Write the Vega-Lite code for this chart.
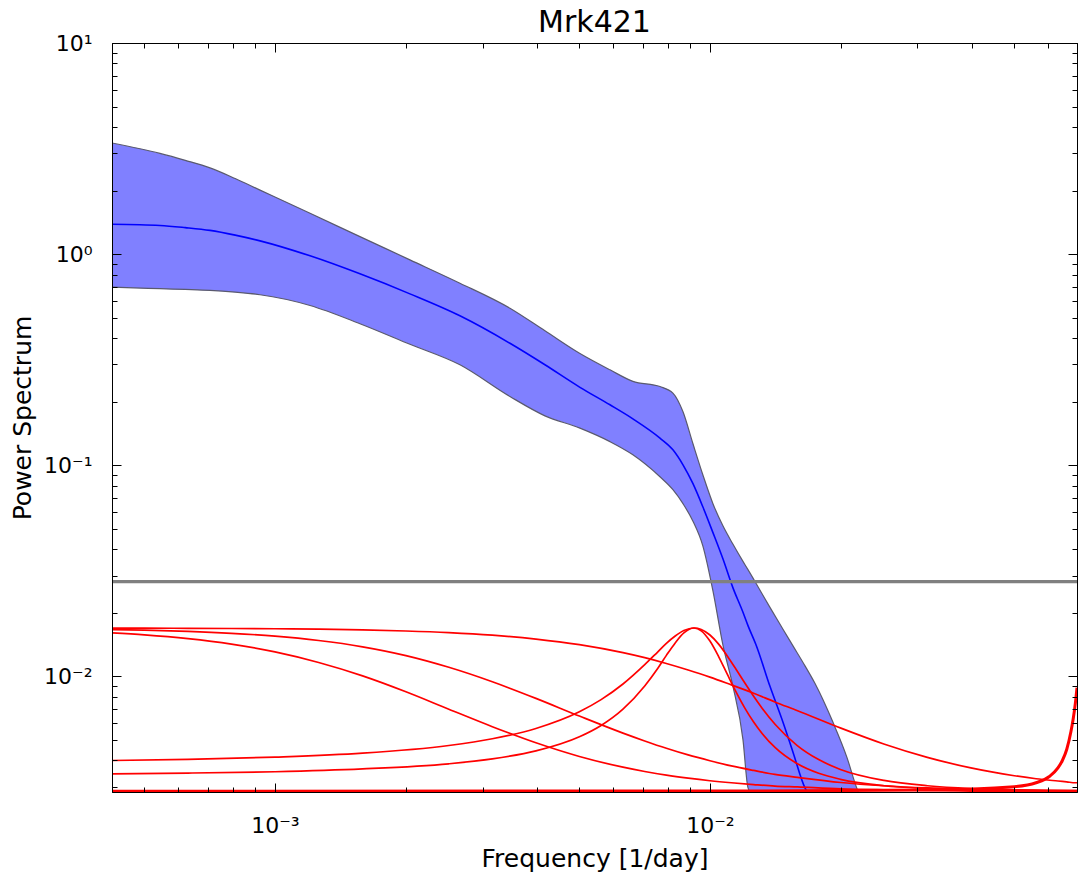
{
  "$schema": "https://vega.github.io/schema/vega-lite/v6.json",
  "width": 965,
  "height": 749,
  "autosize": {"type": "none"},
  "padding": {"left": 112, "top": 43, "right": 1, "bottom": 88},
  "background": "white",
  "title": {"text": "Mrk421", "font": "DejaVu Sans", "fontSize": 30, "fontWeight": "normal", "color": "black", "baseline": "alphabetic", "offset": -30, "anchor": "middle"},
  "config": {"view": {"stroke": "black", "strokeWidth": 1}, "font": "DejaVu Sans"},
  "datasets": {
    "band": [
      {"f": 0.000422, "lo": 0.697, "med": 1.385, "hi": 3.36},
      {"f": 0.000544, "lo": 0.686, "med": 1.367, "hi": 3.00},
      {"f": 0.000622, "lo": 0.680, "med": 1.335, "hi": 2.78},
      {"f": 0.000709, "lo": 0.673, "med": 1.295, "hi": 2.56},
      {"f": 0.000810, "lo": 0.660, "med": 1.230, "hi": 2.28},
      {"f": 0.000924, "lo": 0.642, "med": 1.155, "hi": 2.01},
      {"f": 0.001204, "lo": 0.571, "med": 0.981, "hi": 1.56},
      {"f": 0.001568, "lo": 0.468, "med": 0.806, "hi": 1.21},
      {"f": 0.002043, "lo": 0.374, "med": 0.648, "hi": 0.939},
      {"f": 0.002662, "lo": 0.299, "med": 0.510, "hi": 0.728},
      {"f": 0.003469, "lo": 0.2115, "med": 0.378, "hi": 0.554},
      {"f": 0.004175, "lo": 0.1713, "med": 0.299, "hi": 0.433},
      {"f": 0.005025, "lo": 0.1498, "med": 0.2338, "hi": 0.338},
      {"f": 0.00589, "lo": 0.1293, "med": 0.1932, "hi": 0.283},
      {"f": 0.00665, "lo": 0.1120, "med": 0.1658, "hi": 0.2496},
      {"f": 0.007675, "lo": 0.0881, "med": 0.1344, "hi": 0.2358},
      {"f": 0.00822, "lo": 0.0765, "med": 0.1183, "hi": 0.2195},
      {"f": 0.00867, "lo": 0.0657, "med": 0.1004, "hi": 0.1790},
      {"f": 0.00914, "lo": 0.0543, "med": 0.0817, "hi": 0.1263},
      {"f": 0.00963, "lo": 0.0415, "med": 0.0635, "hi": 0.0901},
      {"f": 0.01016, "lo": 0.0254, "med": 0.0479, "hi": 0.0657},
      {"f": 0.01071, "lo": 0.01408, "med": 0.0360, "hi": 0.0516},
      {"f": 0.01129, "lo": 0.0090, "med": 0.0263, "hi": 0.0423},
      {"f": 0.01191, "lo": 0.00501, "med": 0.0201, "hi": 0.0350},
      {"f": 0.01223, "lo": 0.00297, "med": 0.01737, "hi": 0.0320},
      {"f": 0.01276, "lo": 0.0026, "med": 0.01411, "hi": 0.0276},
      {"f": 0.01374, "lo": 0.0026, "med": 0.00896, "hi": 0.0212},
      {"f": 0.01472, "lo": 0.0026, "med": 0.00606, "hi": 0.0167},
      {"f": 0.01552, "lo": 0.0026, "med": 0.00437, "hi": 0.01393},
      {"f": 0.01654, "lo": 0.0026, "med": 0.00296, "hi": 0.0112},
      {"f": 0.01743, "lo": 0.0026, "med": 0.0026, "hi": 0.00926},
      {"f": 0.01918, "lo": 0.0026, "med": 0.0026, "hi": 0.00605},
      {"f": 0.02065, "lo": 0.0026, "med": 0.0026, "hi": 0.00413},
      {"f": 0.02177, "lo": 0.0026, "med": 0.0026, "hi": 0.00294},
      {"f": 0.02236, "lo": 0.0026, "med": 0.0026, "hi": 0.0026}
    ],
    "threshold": [{"P": 0.02805}],
    "components": [
      {"c": "r1", "f": 0.000422, "P": 0.01691}, {"c": "r1", "f": 0.000501, "P": 0.01690}, {"c": "r1", "f": 0.000631, "P": 0.01687}, {"c": "r1", "f": 0.000794, "P": 0.01684}, {"c": "r1", "f": 0.001, "P": 0.01679}, {"c": "r1", "f": 0.00126, "P": 0.01671}, {"c": "r1", "f": 0.00159, "P": 0.01659}, {"c": "r1", "f": 0.002, "P": 0.01639}, {"c": "r1", "f": 0.00251, "P": 0.01610}, {"c": "r1", "f": 0.00316, "P": 0.01566}, {"c": "r1", "f": 0.00398, "P": 0.01501}, {"c": "r1", "f": 0.00501, "P": 0.01412}, {"c": "r1", "f": 0.00631, "P": 0.01294}, {"c": "r1", "f": 0.00708, "P": 0.01225}, {"c": "r1", "f": 0.00794, "P": 0.01150}, {"c": "r1", "f": 0.00891, "P": 0.01071}, {"c": "r1", "f": 0.01, "P": 0.00991}, {"c": "r1", "f": 0.0112, "P": 0.00910}, {"c": "r1", "f": 0.0126, "P": 0.00831}, {"c": "r1", "f": 0.0141, "P": 0.00756}, {"c": "r1", "f": 0.0159, "P": 0.00687}, {"c": "r1", "f": 0.02, "P": 0.00568}, {"c": "r1", "f": 0.0251, "P": 0.00478}, {"c": "r1", "f": 0.0316, "P": 0.00413}, {"c": "r1", "f": 0.0398, "P": 0.00368}, {"c": "r1", "f": 0.0501, "P": 0.00338}, {"c": "r1", "f": 0.0562, "P": 0.00327}, {"c": "r1", "f": 0.0631, "P": 0.00319}, {"c": "r1", "f": 0.0661, "P": 0.00316}, {"c": "r1", "f": 0.0692, "P": 0.00313}, {"c": "r1", "f": 0.0698, "P": 0.00313},
      {"c": "r2", "f": 0.000422, "P": 0.01665}, {"c": "r2", "f": 0.000501, "P": 0.01654}, {"c": "r2", "f": 0.000631, "P": 0.01632}, {"c": "r2", "f": 0.000794, "P": 0.01598}, {"c": "r2", "f": 0.001, "P": 0.01549}, {"c": "r2", "f": 0.00126, "P": 0.01477}, {"c": "r2", "f": 0.00159, "P": 0.01379}, {"c": "r2", "f": 0.002, "P": 0.01253}, {"c": "r2", "f": 0.00251, "P": 0.01103}, {"c": "r2", "f": 0.00316, "P": 0.00942}, {"c": "r2", "f": 0.00398, "P": 0.00786}, {"c": "r2", "f": 0.00501, "P": 0.00648}, {"c": "r2", "f": 0.00631, "P": 0.00538}, {"c": "r2", "f": 0.00708, "P": 0.00494}, {"c": "r2", "f": 0.00794, "P": 0.00456}, {"c": "r2", "f": 0.00891, "P": 0.00424}, {"c": "r2", "f": 0.01, "P": 0.00398}, {"c": "r2", "f": 0.0112, "P": 0.00376}, {"c": "r2", "f": 0.0126, "P": 0.00358}, {"c": "r2", "f": 0.0141, "P": 0.00343}, {"c": "r2", "f": 0.0159, "P": 0.00332}, {"c": "r2", "f": 0.02, "P": 0.00314}, {"c": "r2", "f": 0.0251, "P": 0.00303}, {"c": "r2", "f": 0.0316, "P": 0.00296}, {"c": "r2", "f": 0.0398, "P": 0.00292}, {"c": "r2", "f": 0.0501, "P": 0.00289}, {"c": "r2", "f": 0.0562, "P": 0.00288}, {"c": "r2", "f": 0.0631, "P": 0.00287}, {"c": "r2", "f": 0.0661, "P": 0.00287}, {"c": "r2", "f": 0.0692, "P": 0.00287}, {"c": "r2", "f": 0.0698, "P": 0.00287},
      {"c": "r3", "f": 0.000422, "P": 0.01604}, {"c": "r3", "f": 0.000501, "P": 0.01570}, {"c": "r3", "f": 0.000631, "P": 0.01507}, {"c": "r3", "f": 0.000794, "P": 0.01420}, {"c": "r3", "f": 0.001, "P": 0.01304}, {"c": "r3", "f": 0.00126, "P": 0.01162}, {"c": "r3", "f": 0.00159, "P": 0.01004}, {"c": "r3", "f": 0.002, "P": 0.00844}, {"c": "r3", "f": 0.00251, "P": 0.00698}, {"c": "r3", "f": 0.00316, "P": 0.00577}, {"c": "r3", "f": 0.00398, "P": 0.00484}, {"c": "r3", "f": 0.00501, "P": 0.00417}, {"c": "r3", "f": 0.00631, "P": 0.00371}, {"c": "r3", "f": 0.00708, "P": 0.00354}, {"c": "r3", "f": 0.00794, "P": 0.00340}, {"c": "r3", "f": 0.00891, "P": 0.00329}, {"c": "r3", "f": 0.01, "P": 0.00320}, {"c": "r3", "f": 0.0112, "P": 0.00313}, {"c": "r3", "f": 0.0126, "P": 0.00307}, {"c": "r3", "f": 0.0141, "P": 0.00302}, {"c": "r3", "f": 0.0159, "P": 0.00299}, {"c": "r3", "f": 0.02, "P": 0.00293}, {"c": "r3", "f": 0.0251, "P": 0.00290}, {"c": "r3", "f": 0.0316, "P": 0.00288}, {"c": "r3", "f": 0.0398, "P": 0.00286}, {"c": "r3", "f": 0.0501, "P": 0.00285}, {"c": "r3", "f": 0.0562, "P": 0.00285}, {"c": "r3", "f": 0.0631, "P": 0.00285}, {"c": "r3", "f": 0.0661, "P": 0.00285}, {"c": "r3", "f": 0.0692, "P": 0.00285}, {"c": "r3", "f": 0.0698, "P": 0.00285},
      {"c": "pa", "f": 0.000422, "P": 0.00399}, {"c": "pa", "f": 0.000631, "P": 0.00404}, {"c": "pa", "f": 0.001, "P": 0.00414}, {"c": "pa", "f": 0.00159, "P": 0.00432}, {"c": "pa", "f": 0.00251, "P": 0.00470}, {"c": "pa", "f": 0.00316, "P": 0.00506}, {"c": "pa", "f": 0.00398, "P": 0.00566}, {"c": "pa", "f": 0.00501, "P": 0.00679}, {"c": "pa", "f": 0.00562, "P": 0.00775}, {"c": "pa", "f": 0.00631, "P": 0.00919}, {"c": "pa", "f": 0.00708, "P": 0.01135}, {"c": "pa", "f": 0.00759, "P": 0.01306}, {"c": "pa", "f": 0.00794, "P": 0.01431}, {"c": "pa", "f": 0.00832, "P": 0.01551}, {"c": "pa", "f": 0.00871, "P": 0.01647}, {"c": "pa", "f": 0.00919, "P": 0.01693}, {"c": "pa", "f": 0.00955, "P": 0.01667}, {"c": "pa", "f": 0.01, "P": 0.01569}, {"c": "pa", "f": 0.01047, "P": 0.01420}, {"c": "pa", "f": 0.01096, "P": 0.01249}, {"c": "pa", "f": 0.01148, "P": 0.01080}, {"c": "pa", "f": 0.01202, "P": 0.00931}, {"c": "pa", "f": 0.01259, "P": 0.00806}, {"c": "pa", "f": 0.01318, "P": 0.00706}, {"c": "pa", "f": 0.01413, "P": 0.00591}, {"c": "pa", "f": 0.01585, "P": 0.00471}, {"c": "pa", "f": 0.01778, "P": 0.00403}, {"c": "pa", "f": 0.01995, "P": 0.00362}, {"c": "pa", "f": 0.02512, "P": 0.00321}, {"c": "pa", "f": 0.03162, "P": 0.00303}, {"c": "pa", "f": 0.03981, "P": 0.00294}, {"c": "pa", "f": 0.05012, "P": 0.00290}, {"c": "pa", "f": 0.0698, "P": 0.00287},
      {"c": "pb", "f": 0.000422, "P": 0.00345}, {"c": "pb", "f": 0.000631, "P": 0.00348}, {"c": "pb", "f": 0.001, "P": 0.00353}, {"c": "pb", "f": 0.00159, "P": 0.00364}, {"c": "pb", "f": 0.00251, "P": 0.00385}, {"c": "pb", "f": 0.00316, "P": 0.00406}, {"c": "pb", "f": 0.00398, "P": 0.00443}, {"c": "pb", "f": 0.00501, "P": 0.00517}, {"c": "pb", "f": 0.00562, "P": 0.00585}, {"c": "pb", "f": 0.00631, "P": 0.00699}, {"c": "pb", "f": 0.00708, "P": 0.00900}, {"c": "pb", "f": 0.00759, "P": 0.01092}, {"c": "pb", "f": 0.00794, "P": 0.01256}, {"c": "pb", "f": 0.00832, "P": 0.01439}, {"c": "pb", "f": 0.00871, "P": 0.01605}, {"c": "pb", "f": 0.00919, "P": 0.01693}, {"c": "pb", "f": 0.00955, "P": 0.01642}, {"c": "pb", "f": 0.01, "P": 0.01468}, {"c": "pb", "f": 0.01047, "P": 0.01240}, {"c": "pb", "f": 0.01096, "P": 0.01023}, {"c": "pb", "f": 0.01148, "P": 0.00844}, {"c": "pb", "f": 0.01202, "P": 0.00709}, {"c": "pb", "f": 0.01259, "P": 0.00609}, {"c": "pb", "f": 0.01318, "P": 0.00536}, {"c": "pb", "f": 0.01413, "P": 0.00459}, {"c": "pb", "f": 0.01585, "P": 0.00386}, {"c": "pb", "f": 0.01778, "P": 0.00347}, {"c": "pb", "f": 0.01995, "P": 0.00325}, {"c": "pb", "f": 0.02512, "P": 0.00303}, {"c": "pb", "f": 0.03162, "P": 0.00294}, {"c": "pb", "f": 0.03981, "P": 0.00289}, {"c": "pb", "f": 0.05012, "P": 0.00287}, {"c": "pb", "f": 0.0698, "P": 0.00285}
    ],
    "spike": [
      {"f": 0.000422, "P": 0.002855}, {"f": 0.01, "P": 0.00286}, {"f": 0.0316, "P": 0.00289}, {"f": 0.0501, "P": 0.0030}, {"f": 0.0562, "P": 0.00313}, {"f": 0.0603, "P": 0.00335}, {"f": 0.0631, "P": 0.00368}, {"f": 0.0646, "P": 0.00399}, {"f": 0.0661, "P": 0.0045}, {"f": 0.0676, "P": 0.00547}, {"f": 0.0684, "P": 0.00627}, {"f": 0.0692, "P": 0.00746}, {"f": 0.0698, "P": 0.00883}
    ]
  },
  "layer": [
    {
      "data": {"name": "band"},
      "mark": {"type": "area", "color": "#8080ff", "opacity": 1, "clip": true, "interpolate": "monotone"},
      "encoding": {
        "x": {"field": "f", "type": "quantitative", "scale": {"type": "log", "domain": [0.000422, 0.0698], "nice": false},
          "axis": {"orient": "bottom", "values": [0.0005,0.0006,0.0007,0.0008,0.0009,0.001,0.002,0.003,0.004,0.005,0.006,0.007,0.008,0.009,0.01,0.02,0.03,0.04,0.05,0.06],
            "title": "Frequency [1/day]", "titleFont": "DejaVu Sans", "titleFontSize": 25, "titleFontWeight": "normal", "titleColor": "black", "titlePadding": 6,
            "labelFont": "DejaVu Sans", "labelFontSize": 22, "labelColor": "black", "labelPadding": 32, "labelOverlap": false, "labelFlush": false,
            "labelExpr": "abs(log(datum.value)/LN10 - round(log(datum.value)/LN10)) < 0.001 ? '10' + (round(log(datum.value)/LN10) == -3 ? '⁻³' : round(log(datum.value)/LN10) == -2 ? '⁻²' : '') : ''",
            "tickSize": {"expr": "abs(log(datum.value)/LN10 - round(log(datum.value)/LN10)) < 0.001 ? -9 : -5"},
            "tickColor": "black", "tickWidth": 1, "domain": true, "domainColor": "black", "grid": false, "zindex": 1}},
        "y": {"field": "hi", "type": "quantitative", "scale": {"type": "log", "domain": [0.00283, 10], "nice": false},
          "axis": {"orient": "left", "values": [0.003,0.004,0.005,0.006,0.007,0.008,0.009,0.01,0.02,0.03,0.04,0.05,0.06,0.07,0.08,0.09,0.1,0.2,0.3,0.4,0.5,0.6,0.7,0.8,0.9,1,2,3,4,5,6,7,8,9,10],
            "title": "Power Spectrum", "titleFont": "DejaVu Sans", "titleFontSize": 25, "titleFontWeight": "normal", "titleColor": "black", "titlePadding": 8,
            "labelFont": "DejaVu Sans", "labelFontSize": 22, "labelColor": "black", "labelPadding": 29, "labelOverlap": false, "labelFlush": false,
            "labelExpr": "abs(log(datum.value)/LN10 - round(log(datum.value)/LN10)) < 0.001 ? '10' + (round(log(datum.value)/LN10) == -2 ? '⁻²' : round(log(datum.value)/LN10) == -1 ? '⁻¹' : round(log(datum.value)/LN10) == 0 ? '⁰' : '¹') : ''",
            "tickSize": {"expr": "abs(log(datum.value)/LN10 - round(log(datum.value)/LN10)) < 0.001 ? -9 : -5"},
            "tickColor": "black", "tickWidth": 1, "domain": true, "domainColor": "black", "grid": false, "zindex": 1}},
        "y2": {"field": "lo"}
      }
    },
    {
      "data": {"name": "band"},
      "mark": {"type": "line", "color": "#5a5a6e", "strokeWidth": 1.2, "clip": true, "interpolate": "monotone"},
      "encoding": {
        "x": {"field": "f", "type": "quantitative", "axis": null},
        "y": {"field": "hi", "type": "quantitative", "axis": null}
      }
    },
    {
      "data": {"name": "band"},
      "mark": {"type": "line", "color": "#5a5a6e", "strokeWidth": 1.2, "clip": true, "interpolate": "monotone"},
      "encoding": {
        "x": {"field": "f", "type": "quantitative", "axis": null},
        "y": {"field": "lo", "type": "quantitative", "axis": null}
      }
    },
    {
      "data": {"name": "band"},
      "mark": {"type": "line", "color": "#0000ff", "strokeWidth": 1.6, "clip": true, "interpolate": "monotone"},
      "encoding": {
        "x": {"field": "f", "type": "quantitative", "axis": null},
        "y": {"field": "med", "type": "quantitative", "axis": null}
      }
    },
    {
      "data": {"name": "threshold"},
      "mark": {"type": "rule", "color": "#808080", "strokeWidth": 3.2},
      "encoding": {
        "y": {"field": "P", "type": "quantitative", "axis": null}
      }
    },
    {
      "data": {"name": "components"},
      "mark": {"type": "line", "color": "#ff0000", "strokeWidth": 1.7, "clip": true, "interpolate": "monotone"},
      "encoding": {
        "x": {"field": "f", "type": "quantitative",
          "axis": {"orient": "top", "values": [0.0005,0.0006,0.0007,0.0008,0.0009,0.001,0.002,0.003,0.004,0.005,0.006,0.007,0.008,0.009,0.01,0.02,0.03,0.04,0.05,0.06],
            "labels": false, "title": null,
            "tickSize": {"expr": "abs(log(datum.value)/LN10 - round(log(datum.value)/LN10)) < 0.001 ? -9 : -5"},
            "tickColor": "black", "tickWidth": 1, "domain": true, "domainColor": "black", "grid": false, "zindex": 1}},
        "y": {"field": "P", "type": "quantitative",
          "axis": {"orient": "right", "values": [0.003,0.004,0.005,0.006,0.007,0.008,0.009,0.01,0.02,0.03,0.04,0.05,0.06,0.07,0.08,0.09,0.1,0.2,0.3,0.4,0.5,0.6,0.7,0.8,0.9,1,2,3,4,5,6,7,8,9,10],
            "labels": false, "title": null,
            "tickSize": {"expr": "abs(log(datum.value)/LN10 - round(log(datum.value)/LN10)) < 0.001 ? -9 : -5"},
            "tickColor": "black", "tickWidth": 1, "domain": true, "domainColor": "black", "grid": false, "zindex": 1}},
        "detail": {"field": "c"}
      }
    },
    {
      "data": {"name": "spike"},
      "mark": {"type": "line", "color": "#ff0000", "strokeWidth": 3, "clip": true, "interpolate": "monotone"},
      "encoding": {
        "x": {"field": "f", "type": "quantitative", "axis": null},
        "y": {"field": "P", "type": "quantitative", "axis": null}
      }
    }
  ]
}
